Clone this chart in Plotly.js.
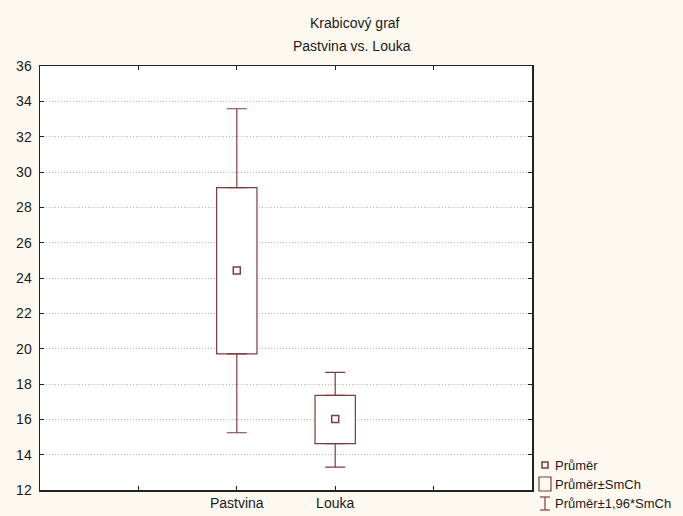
<!DOCTYPE html>
<html>
<head>
<meta charset="utf-8">
<script src="https://cdn.plot.ly/plotly-3.0.1.min.js"></script>
<style>
html,body{margin:0;padding:0;background:#fdf9f0;}
#chart{width:683px;height:516px;}
</style>
</head>
<body>
<div id="chart"></div>
<script>
// Data
const categories = ["Pastvina", "Louka"];
const means = [24.42, 16.02];
const boxLow = [19.70, 14.62];      // mean - SE
const boxHigh = [29.12, 17.36];     // mean + SE
const whiskLow = [15.24, 13.30];    // mean - 1.96*SE
const whiskHigh = [33.58, 18.66];   // mean + 1.96*SE
const yTicks = [12, 14, 16, 18, 20, 22, 24, 26, 28, 30, 32, 34, 36];
const titleLines = ["Krabicový graf", "Pastvina vs. Louka"];
const legendLabels = ["Průměr", "Průměr±SmCh", "Průměr±1,96*SmCh"];

const col = '#7d3c3c';
const font = {family: 'Liberation Sans, Arial, sans-serif', size: 14, color: '#1a1a1a'};
const xs = categories.map((c, i) => i);

const traces = [
  {
    type: 'bar', x: xs, base: boxLow,
    y: boxHigh.map((v, i) => v - boxLow[i]),
    width: 0.41,
    marker: {color: '#ffffff', line: {color: col, width: 1.2}},
    hoverinfo: 'skip', showlegend: false
  },
  {
    type: 'scatter', mode: 'markers', x: xs, y: boxHigh,
    marker: {size: 1, color: 'rgba(0,0,0,0)'},
    error_y: {type: 'data', symmetric: false,
      array: whiskHigh.map((v, i) => v - boxHigh[i]),
      arrayminus: boxHigh.map(() => 0),
      color: col, thickness: 1.2, width: 10},
    hoverinfo: 'skip', showlegend: false
  },
  {
    type: 'scatter', mode: 'markers', x: xs, y: boxLow,
    marker: {size: 1, color: 'rgba(0,0,0,0)'},
    error_y: {type: 'data', symmetric: false,
      array: boxLow.map(() => 0),
      arrayminus: boxLow.map((v, i) => v - whiskLow[i]),
      color: col, thickness: 1.2, width: 10},
    hoverinfo: 'skip', showlegend: false
  },
  {
    type: 'scatter', mode: 'markers', x: xs, y: means,
    marker: {symbol: 'square-open', size: 7, color: col, line: {width: 1.5, color: col}},
    hoverinfo: 'skip', showlegend: false
  }
];

// plot area geometry helpers (pixel -> paper)
const L = 40, R = 532, T = 66, B = 490;
const px = x => (x - L) / (R - L);
const py = y => (B - y) / (B - T);

const annotations = [
  {text: titleLines[0], x: px(355), y: py(23), xref: 'paper', yref: 'paper', showarrow: false, xanchor: 'center', yanchor: 'middle', font: font},
  {text: titleLines[1], x: px(352), y: py(46), xref: 'paper', yref: 'paper', showarrow: false, xanchor: 'center', yanchor: 'middle', font: font}
];
const legendY = [465, 484, 503];
legendLabels.forEach((t, i) => {
  annotations.push({text: t, x: px(553), y: py(legendY[i]), xref: 'paper', yref: 'paper', showarrow: false, xanchor: 'left', yanchor: 'middle', font: {family: font.family, size: 13, color: font.color}});
});

const shapes = [
  // legend: small square (mean)
  {type: 'rect', xref: 'paper', yref: 'paper', x0: px(542), x1: px(548), y0: py(468), y1: py(462), line: {color: col, width: 1.5}, fillcolor: 'rgba(0,0,0,0)'},
  // legend: box
  {type: 'rect', xref: 'paper', yref: 'paper', x0: px(539), x1: px(551), y0: py(491), y1: py(477), line: {color: col, width: 1.2}, fillcolor: 'rgba(0,0,0,0)'},
  // legend: whisker I
  {type: 'line', xref: 'paper', yref: 'paper', x0: px(545), x1: px(545), y0: py(510), y1: py(497), line: {color: col, width: 1.2}},
  {type: 'line', xref: 'paper', yref: 'paper', x0: px(540), x1: px(550), y0: py(497), y1: py(497), line: {color: col, width: 1.2}},
  {type: 'line', xref: 'paper', yref: 'paper', x0: px(540), x1: px(550), y0: py(510), y1: py(510), line: {color: col, width: 1.2}}
];

const layout = {
  width: 683, height: 516,
  paper_bgcolor: '#fdf9f0', plot_bgcolor: '#ffffff',
  margin: {l: L, r: 683 - R, t: T, b: 516 - B, pad: 0},
  font: font,
  showlegend: false,
  barmode: 'overlay',
  xaxis: {
    range: [-2, 3], tickmode: 'array', tickvals: [-1, 0, 1, 2],
    ticktext: ['', categories[0], categories[1], ''],
    ticks: 'inside', ticklen: 4, tickcolor: '#222', tickwidth: 1,
    showline: true, linecolor: '#222', linewidth: 1.5, mirror: 'ticks',
    showgrid: false, zeroline: false, fixedrange: true,
    tickfont: font
  },
  yaxis: {
    range: [12, 36], tickmode: 'array', tickvals: yTicks,
    ticks: 'inside', ticklen: 4, tickcolor: '#222', tickwidth: 1,
    showline: true, linecolor: '#222', linewidth: 1.5, mirror: 'ticks',
    showgrid: true, gridcolor: '#b4b4b4', griddash: '1px,2px', gridwidth: 1,
    zeroline: false, fixedrange: true, ticklabelstandoff: 4,
    tickfont: font
  },
  annotations: annotations,
  shapes: shapes
};

Plotly.newPlot('chart', traces, layout, {staticPlot: true, displayModeBar: false});
</script>
</body>
</html>
